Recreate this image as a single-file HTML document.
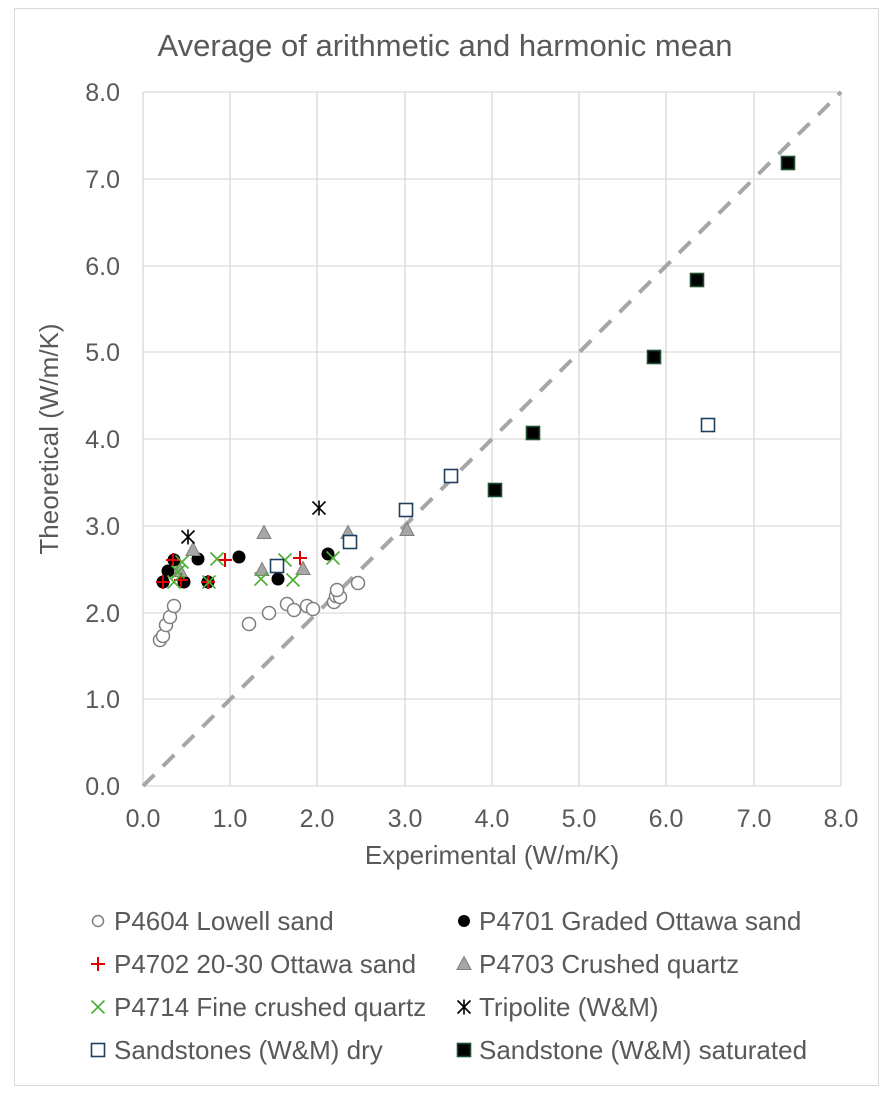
<!DOCTYPE html>
<html><head><style>body{margin:0;background:#fff}svg{display:block}text{font-family:"Liberation Sans",Arial,sans-serif;fill:#595959}</style></head>
<body>
<svg width="892" height="1096" xmlns="http://www.w3.org/2000/svg">
<defs>
<g id="oc"><circle r="6.5" fill="#fff" stroke="#7f7f7f" stroke-width="1.5"/></g>
<g id="fc"><circle r="6.5" fill="#000"/></g>
<g id="pl"><path d="M-7 0H7M0 -7V7" stroke="#e00000" stroke-width="2"/></g>
<g id="tr"><path d="M0 -7.5L7 5.5H-7Z" fill="#a6a6a6" stroke="#7f7f7f" stroke-width="1"/></g>
<g id="gx"><path d="M-6.5 -6.5L6.5 6.5M-6.5 6.5L6.5 -6.5" stroke="#4caf32" stroke-width="1.6"/></g>
<g id="st"><path d="M-6.5 -6.5L6.5 6.5M-6.5 6.5L6.5 -6.5M0 -7.5V7.5" stroke="#000" stroke-width="1.6"/></g>
<g id="os"><rect x="-6.5" y="-6.5" width="13" height="13" fill="#fff" stroke="#1f3f5f" stroke-width="1.6"/></g>
<g id="fs"><rect x="-6.5" y="-6.5" width="13" height="13" fill="#000" stroke="#1f4f2f" stroke-width="1.6"/></g>
</defs>
<rect x="14.5" y="8.5" width="864" height="1077" fill="#fff" stroke="#d9d9d9"/>
<text x="445" y="56" font-size="31" text-anchor="middle">Average of arithmetic and harmonic mean</text>
<g stroke="#d9d9d9" stroke-width="1.3">
<path d="M143 92V786M230 92V786M317 92V786M405 92V786M492 92V786M579 92V786M666 92V786M754 92V786M841 92V786"/>
<path d="M143 92H841M143 179H841M143 266H841M143 352H841M143 439H841M143 526H841M143 613H841M143 699H841M143 786H841"/>
</g>
<g font-size="25" text-anchor="end">
<text x="120" y="101">8.0</text><text x="120" y="188">7.0</text><text x="120" y="275">6.0</text><text x="120" y="361">5.0</text><text x="120" y="448">4.0</text><text x="120" y="535">3.0</text><text x="120" y="622">2.0</text><text x="120" y="708">1.0</text><text x="120" y="795">0.0</text>
</g>
<g font-size="25" text-anchor="middle">
<text x="143" y="827">0.0</text><text x="230" y="827">1.0</text><text x="317" y="827">2.0</text><text x="405" y="827">3.0</text><text x="492" y="827">4.0</text><text x="579" y="827">5.0</text><text x="666" y="827">6.0</text><text x="754" y="827">7.0</text><text x="841" y="827">8.0</text>
</g>
<text x="492" y="864" font-size="26" text-anchor="middle">Experimental (W/m/K)</text>
<text transform="translate(58 439) rotate(-90)" font-size="26" text-anchor="middle">Theoretical (W/m/K)</text>
<path d="M143 786L841 92" stroke="#a6a6a6" stroke-width="4" stroke-dasharray="16 12"/>
<g>
<use href="#oc" x="160" y="640"/><use href="#oc" x="163" y="636"/><use href="#oc" x="166" y="625"/><use href="#oc" x="170" y="617"/><use href="#oc" x="174" y="606"/><use href="#oc" x="249" y="624"/><use href="#oc" x="269" y="613"/><use href="#oc" x="287" y="604"/><use href="#oc" x="294" y="610"/><use href="#oc" x="307" y="606"/><use href="#oc" x="313" y="609"/><use href="#oc" x="334" y="602"/><use href="#oc" x="336" y="596"/><use href="#oc" x="340" y="597"/><use href="#oc" x="337" y="590"/><use href="#oc" x="358" y="583"/>
<use href="#fc" x="163" y="582"/><use href="#fc" x="168" y="571"/><use href="#fc" x="174" y="560"/><use href="#fc" x="198" y="559"/><use href="#fc" x="184" y="582"/><use href="#fc" x="208" y="582"/><use href="#fc" x="239" y="557"/><use href="#fc" x="278" y="579"/><use href="#fc" x="328" y="554"/>
<use href="#tr" x="193" y="550"/><use href="#tr" x="180" y="571"/><use href="#tr" x="264" y="533"/><use href="#tr" x="262" y="570"/><use href="#tr" x="303" y="569"/><use href="#tr" x="348" y="533"/><use href="#tr" x="407" y="530"/>
<use href="#pl" x="163" y="582"/><use href="#pl" x="173" y="560"/><use href="#pl" x="181" y="580"/><use href="#pl" x="208" y="582"/><use href="#pl" x="225" y="560"/><use href="#pl" x="300" y="558"/>
<use href="#gx" x="182" y="562"/><use href="#gx" x="174" y="582"/><use href="#gx" x="178" y="572"/><use href="#gx" x="209" y="582"/><use href="#gx" x="217" y="559"/><use href="#gx" x="261" y="579"/><use href="#gx" x="285" y="560"/><use href="#gx" x="293" y="580"/><use href="#gx" x="333" y="558"/>
<use href="#st" x="188" y="537"/><use href="#st" x="319" y="508"/>
<use href="#os" x="277" y="566"/><use href="#os" x="350" y="542"/><use href="#os" x="406" y="510"/><use href="#os" x="451" y="476"/><use href="#os" x="708" y="425"/>
<use href="#fs" x="495" y="490"/><use href="#fs" x="533" y="433"/><use href="#fs" x="654" y="357"/><use href="#fs" x="697" y="280"/><use href="#fs" x="788" y="163"/>
</g>
<g font-size="26">
<circle cx="98" cy="921" r="5.5" fill="#fff" stroke="#7f7f7f" stroke-width="1.5"/><text x="114" y="930">P4604 Lowell sand</text>
<circle cx="464" cy="921" r="6" fill="#000"/><text x="479" y="930">P4701 Graded Ottawa sand</text>
<use href="#pl" x="98" y="964"/><text x="114" y="973">P4702 20-30 Ottawa sand</text>
<use href="#tr" x="464" y="964"/><text x="479" y="973">P4703 Crushed quartz</text>
<use href="#gx" x="98" y="1007"/><text x="114" y="1016">P4714 Fine crushed quartz</text>
<use href="#st" x="464" y="1007"/><text x="479" y="1016">Tripolite (W&amp;M)</text>
<use href="#os" x="98" y="1050"/><text x="114" y="1059">Sandstones (W&amp;M) dry</text>
<use href="#fs" x="464" y="1050"/><text x="479" y="1059">Sandstone (W&amp;M) saturated</text>
</g>
</svg>
</body></html>
